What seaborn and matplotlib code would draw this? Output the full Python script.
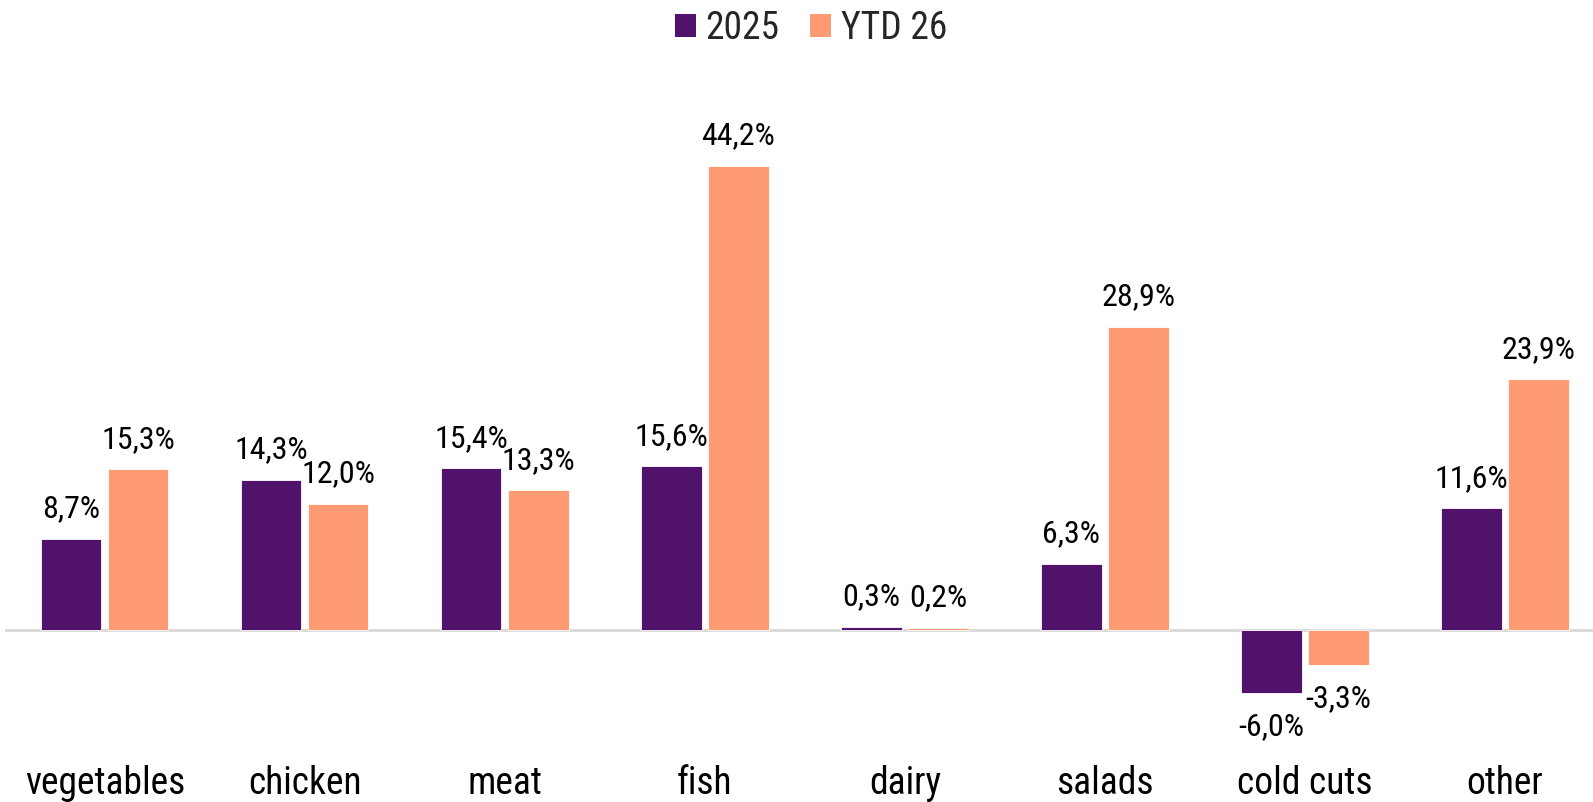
import matplotlib
matplotlib.use("Agg")
import matplotlib.pyplot as plt
from matplotlib.patches import Patch
import seaborn as sns
import pandas as pd

categories = ["vegetables", "chicken", "meat", "fish", "dairy", "salads", "cold cuts", "other"]
series_names = ["2025", "YTD 26"]
values_2025 = [8.7, 14.3, 15.4, 15.6, 0.3, 6.3, -6.0, 11.6]
values_ytd26 = [15.3, 12.0, 13.3, 44.2, 0.2, 28.9, -3.3, 23.9]
colors = ["#50126A", "#FF9B73"]

df = pd.DataFrame({
    "category": categories * 2,
    "series": [series_names[0]] * len(categories) + [series_names[1]] * len(categories),
    "value": values_2025 + values_ytd26,
})

sns.set_theme(style="white")
plt.rcParams["font.family"] = ["Roboto Condensed", "Liberation Sans Narrow", "Roboto", "DejaVu Sans"]

fig = plt.figure(figsize=(15.93, 8.02), dpi=100)
ax = fig.add_axes([0.003, 0.0705, 0.997, 0.7986])

sns.barplot(data=df, x="category", y="value", hue="series", order=categories,
            hue_order=series_names, palette=colors, width=0.67, gap=0.1,
            saturation=1, edgecolor="white", linewidth=0.6, legend=False, ax=ax)

ax.set_xlim(-0.5, 7.44)
ax.set_ylim(-11, 50)
ax.axhline(0, color="#d9d9d9", linewidth=2, zorder=0.5)

# value labels: above positive bars, below negative ones
for container in ax.containers:
    for bar in container:
        h = bar.get_height()
        end = bar.get_y() + h
        off = 21.5 if h >= 0 else -24.5
        ax.annotate(f"{h:.1f}%".replace(".", ","),
                    xy=(bar.get_x() + bar.get_width() / 2, end),
                    xytext=(0, off), textcoords="offset points",
                    ha="center", va="center", fontsize=23, color="black")

ax.set_xlabel("")
ax.set_ylabel("")
ax.set_yticks([])
ax.set_xticks(range(len(categories)))
ax.set_xticklabels(categories)
ax.tick_params(axis="x", length=0, labelsize=27, pad=14, colors="black")
sns.despine(ax=ax, left=True, bottom=True)

handles = [Patch(facecolor=c, edgecolor="none") for c in colors]
fig.legend(handles, series_names, loc="center", bbox_to_anchor=(0.509, 0.965), ncol=2,
           frameon=False, fontsize=27, handlelength=0.58, handleheight=0.58,
           handletextpad=0.25, columnspacing=0.8)

fig.savefig("out.png", dpi=100)
